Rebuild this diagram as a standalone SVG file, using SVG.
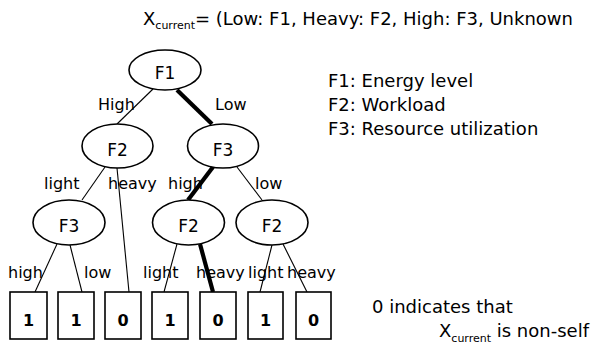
<svg xmlns="http://www.w3.org/2000/svg" width="592" height="347" viewBox="0 0 592 347">
  <style>
    text { font-family: "DejaVu Sans", Verdana, sans-serif; fill: #000; }
    .node ellipse { fill: #fff; stroke: #000; stroke-width: 1.6; }
    .leaf rect { fill: #fff; stroke: #000; stroke-width: 1.6; }
    .nlabel { font-size: 17px; text-anchor: middle; }
    .leaf text { font-size: 16px; font-weight: bold; text-anchor: middle; }
    .edge { stroke: #000; stroke-width: 1.1; fill: none; }
    .path { stroke: #000; stroke-width: 4.2; fill: none; }
    .elabel { font-size: 16px; }
    .note { font-size: 18px; }
    .sub { font-size: 11px; }
  </style>

  <rect width="592" height="347" fill="#fff"/>

  <!-- tree edges; the thick ones trace the path taken by X_current -->
  <g id="connectors">
    <line class="edge" x1="153" y1="89" x2="117" y2="124"/>
    <line class="path" x1="177" y1="90" x2="212" y2="124"/>
    <line class="edge" x1="105" y1="167" x2="82" y2="200"/>
    <line class="edge" x1="117" y1="168" x2="129" y2="292"/>
    <line class="path" x1="213" y1="167" x2="188" y2="200"/>
    <line class="edge" x1="237" y1="167" x2="262" y2="200"/>
    <line class="edge" x1="57" y1="244" x2="35" y2="292"/>
    <line class="edge" x1="70" y1="245" x2="82" y2="292"/>
    <line class="edge" x1="177" y1="244" x2="164" y2="292"/>
    <line class="path" x1="200" y1="244" x2="213" y2="292"/>
    <line class="edge" x1="272" y1="245" x2="260" y2="292"/>
    <line class="edge" x1="283" y1="244" x2="307" y2="292"/>

    <text class="elabel" x="98" y="110">High</text>
    <text class="elabel" x="215" y="110">Low</text>
    <text class="elabel" x="44" y="189">light</text>
    <text class="elabel" x="108" y="189">heavy</text>
    <text class="elabel" x="168" y="189">high</text>
    <text class="elabel" x="255" y="189">low</text>
    <text class="elabel" x="8" y="278">high</text>
    <text class="elabel" x="84" y="278">low</text>
    <text class="elabel" x="143" y="278">light</text>
    <text class="elabel" x="196" y="278">heavy</text>
    <text class="elabel" x="248" y="278">light</text>
    <text class="elabel" x="287" y="278">heavy</text>
  </g>

  <!-- decision nodes -->
  <g id="n-f1" class="node"><ellipse cx="165" cy="70" rx="36" ry="20"/><text class="nlabel" x="165" y="79">F1</text></g>
  <g id="n-f2a" class="node"><ellipse cx="117.5" cy="146" rx="35.5" ry="22"/><text class="nlabel" x="117.5" y="156">F2</text></g>
  <g id="n-f3a" class="node"><ellipse cx="223" cy="146" rx="35.5" ry="22"/><text class="nlabel" x="223" y="156">F3</text></g>
  <g id="n-f3b" class="node"><ellipse cx="69" cy="222.5" rx="36" ry="22.5"/><text class="nlabel" x="69" y="232">F3</text></g>
  <g id="n-f2b" class="node"><ellipse cx="188.5" cy="222.5" rx="36" ry="22.5"/><text class="nlabel" x="188.5" y="232">F2</text></g>
  <g id="n-f2c" class="node"><ellipse cx="272" cy="222.5" rx="36" ry="22.5"/><text class="nlabel" x="272" y="232">F2</text></g>

  <!-- leaves -->
  <g id="leaf1" class="leaf"><rect x="10" y="292" width="37" height="47"/><text x="28.5" y="326">1</text></g>
  <g id="leaf2" class="leaf"><rect x="58" y="292" width="36" height="47"/><text x="76" y="326">1</text></g>
  <g id="leaf3" class="leaf"><rect x="105" y="292" width="36" height="47"/><text x="123" y="326">0</text></g>
  <g id="leaf4" class="leaf"><rect x="152" y="292" width="36" height="47"/><text x="170" y="326">1</text></g>
  <g id="leaf5" class="leaf"><rect x="200" y="292" width="36" height="47"/><text x="218" y="326">0</text></g>
  <g id="leaf6" class="leaf"><rect x="248" y="292" width="35" height="47"/><text x="265.5" y="326">1</text></g>
  <g id="leaf7" class="leaf"><rect x="296" y="292" width="35" height="47"/><text x="313.5" y="326">0</text></g>

  <!-- current sample and legend -->
  <g id="notes">
    <text class="note" x="143" y="25">X<tspan class="sub" dy="4">current</tspan><tspan dy="-4">= (Low: F1, Heavy: F2, High: F3, Unknown</tspan></text>
    <text class="note" x="328" y="87">F1: Energy level</text>
    <text class="note" x="328" y="111">F2: Workload</text>
    <text class="note" x="328" y="135">F3: Resource utilization</text>
    <text class="note" x="372" y="313">0 indicates that</text>
    <text class="note" x="439" y="337">X<tspan class="sub" dy="5">current</tspan><tspan dy="-5"> is non-self</tspan></text>
  </g>
</svg>
